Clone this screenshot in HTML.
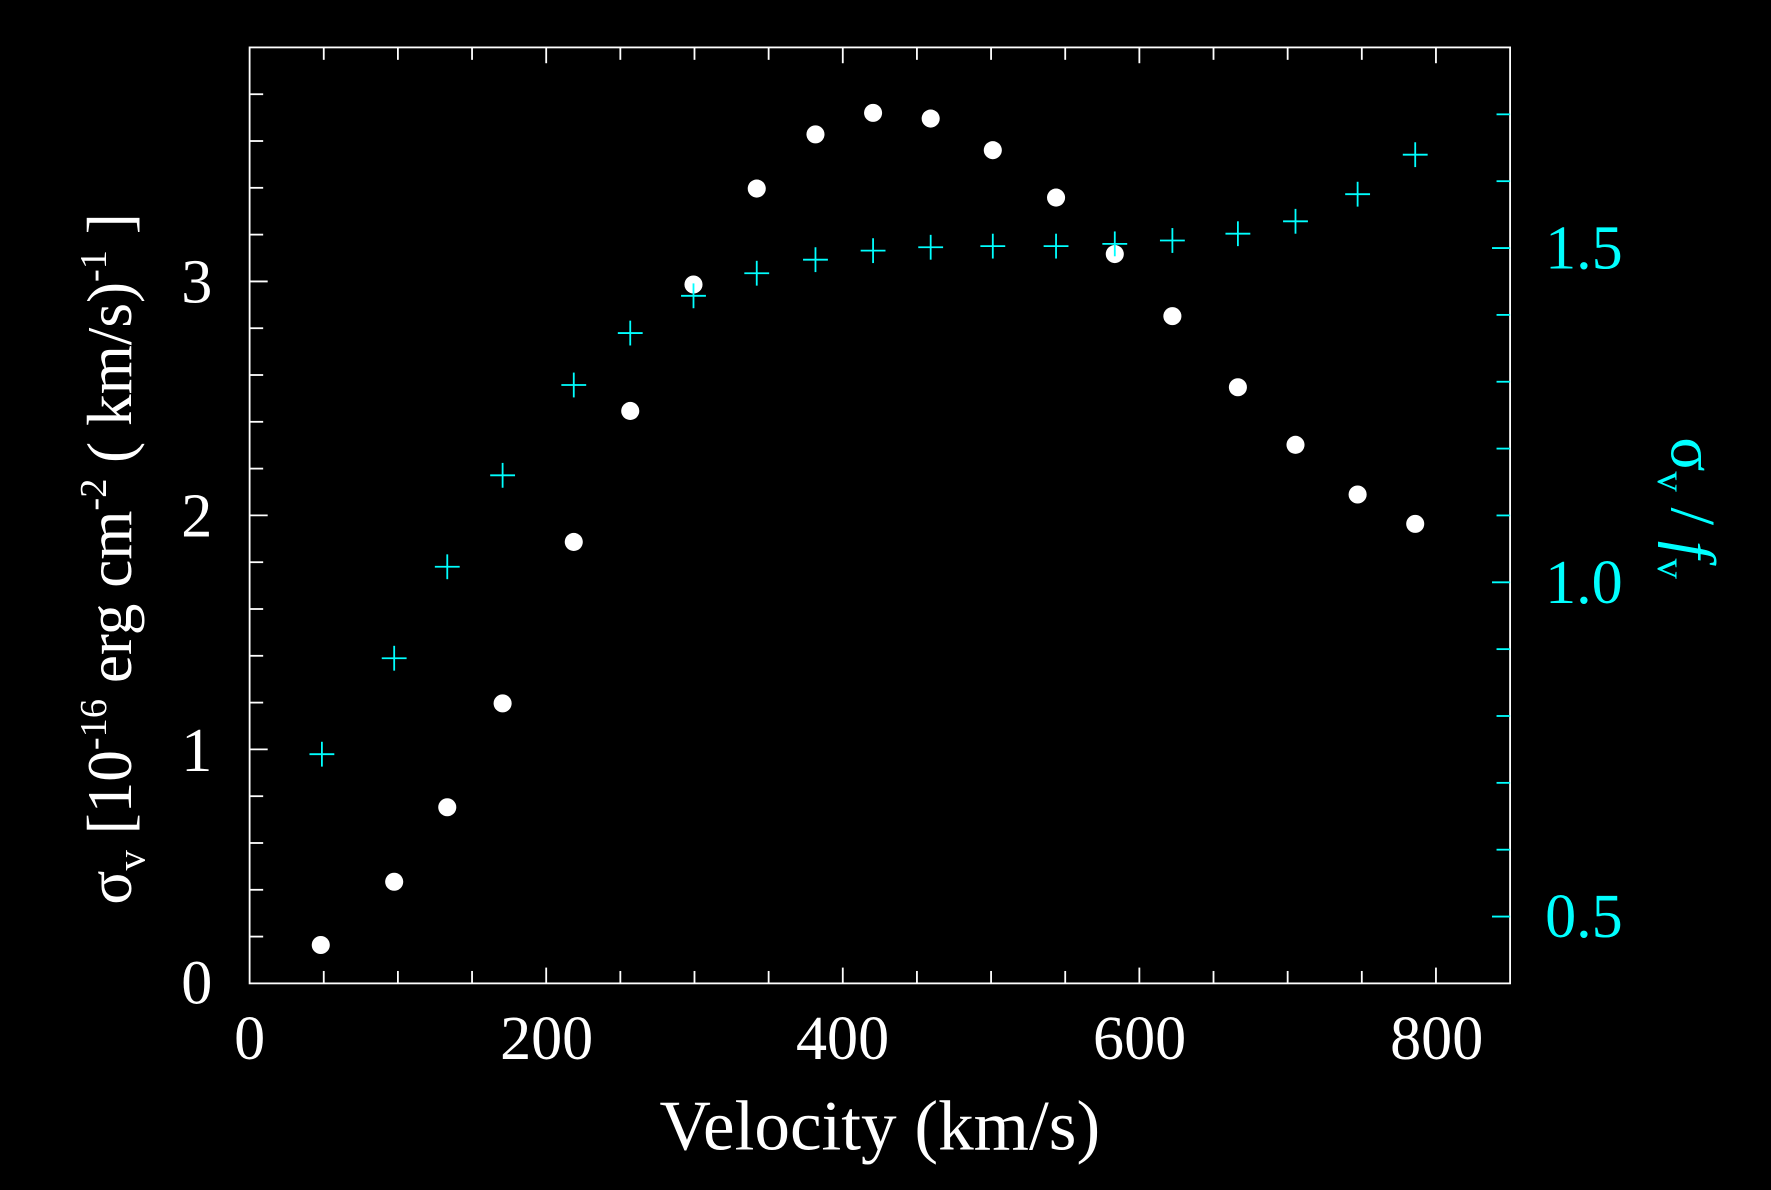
<!DOCTYPE html>
<html><head><meta charset="utf-8"><style>
html,body{margin:0;padding:0;background:#000;width:1771px;height:1190px;overflow:hidden}
svg{display:block}
</style></head><body>
<svg width="1771" height="1190" viewBox="0 0 1568 1054" preserveAspectRatio="none" xmlns="http://www.w3.org/2000/svg" font-family="Liberation Serif, serif">
<rect width="1568" height="1054" fill="#000"/>
<rect x="221" y="42" width="1116" height="829" fill="none" stroke="#fff" stroke-width="1.6"/>
<g id="ticks"></g>
<g font-size="55" fill="#fff" text-anchor="middle">
<text x="221" y="938">0</text><text x="484" y="938">200</text><text x="746" y="938">400</text><text x="1009" y="938">600</text><text x="1272" y="938">800</text>
</g>
<g font-size="55" fill="#fff" text-anchor="end">
<text x="188" y="889">0</text><text x="188" y="683">1</text><text x="188" y="475">2</text><text x="188" y="268">3</text>
</g>
<g font-size="55" fill="#00ffff" text-anchor="start">
<text x="1368" y="830">0.5</text><text x="1368" y="534">1.0</text><text x="1368" y="238">1.5</text>
</g>
<text x="779" y="1018" font-size="63" fill="#fff" text-anchor="middle">Velocity (km/s)</text>
<text transform="translate(116,495) rotate(-90)" font-size="56" fill="#fff" text-anchor="middle">σ<tspan font-size="36" dy="12">v</tspan><tspan dy="-12"> [10</tspan><tspan font-size="34" dy="-22">-16</tspan><tspan dy="22"> erg cm</tspan><tspan font-size="34" dy="-22">-2</tspan><tspan dy="22"> ( km/s)</tspan><tspan font-size="34" dy="-22">-1</tspan><tspan dy="22"> ]</tspan></text>
<text transform="translate(1480,450) rotate(90)" font-size="56" fill="#00ffff" text-anchor="middle">σ<tspan font-size="36" dy="12">v</tspan><tspan dy="-12"> / </tspan><tspan font-style="italic">f</tspan><tspan font-size="36" dy="12">v</tspan></text>
<g id="pts"></g>
<script>
var NS="http://www.w3.org/2000/svg",t=document.getElementById("ticks"),p=document.getElementById("pts");
function L(x1,y1,x2,y2,c){var l=document.createElementNS(NS,"line");l.setAttribute("x1",x1);l.setAttribute("y1",y1);l.setAttribute("x2",x2);l.setAttribute("y2",y2);l.setAttribute("stroke",c);l.setAttribute("stroke-width","1.6");return l;}
for(var v=50;v<850;v+=50){var x=221+v*1116/850,len=(v%200==0)?14:11;t.appendChild(L(x,871,x,871-len,"#fff"));t.appendChild(L(x,42,x,42+len,"#fff"));}
for(var i=1;i<20;i++){var y=871-i*0.2*207.25,len=(i%5==0)?16:12;t.appendChild(L(221,y,221+len,y,"#fff"));}
for(var i=1;i<14;i++){var y=871-i*0.1*592.1,len=(i%5==1)?16:12;t.appendChild(L(1337,y,1337-len,y,"#00ffff"));}
var d=[[284,837],[349,781],[396,715],[445,623],[508,480],[558,364],[614,252],[670,167],[722,119],[773,100],[824,105],[879,133],[935,175],[987,225],[1038,280],[1096,343],[1147,394],[1202,438],[1253,464]];
var c=[[285,668],[349,583],[396,502],[445,421],[508,341],[558,295],[614,262],[670,242],[722,230],[773,222],[824,219],[879,218],[935,218],[987,216],[1038,213],[1096,207],[1147,196],[1202,172],[1253,137]];
d.forEach(function(q){var e=document.createElementNS(NS,"circle");e.setAttribute("cx",q[0]);e.setAttribute("cy",q[1]);e.setAttribute("r","8");e.setAttribute("fill","#fff");p.appendChild(e);});
c.forEach(function(q){p.appendChild(L(q[0]-11,q[1],q[0]+11,q[1],"#00ffff"));p.appendChild(L(q[0],q[1]-11,q[0],q[1]+11,"#00ffff"));});
</script>
</svg>
</body></html>
